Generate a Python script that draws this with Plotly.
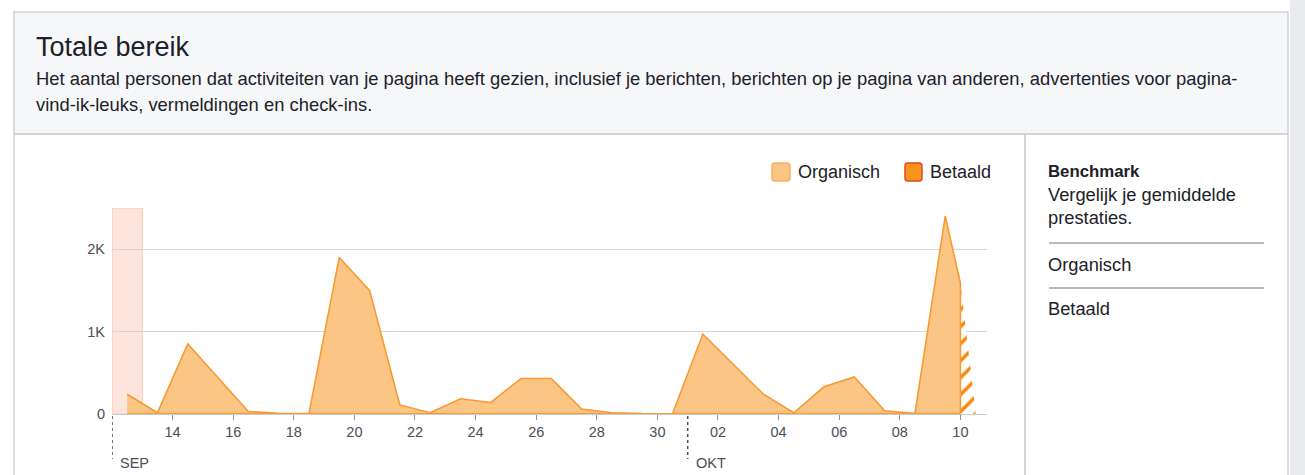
import plotly.graph_objects as go

# ---------------- data ----------------
org_dates = [
    "2015-09-12 12:00", "2015-09-13 12:00", "2015-09-14 12:00", "2015-09-15 12:00",
    "2015-09-16 12:00", "2015-09-17 12:00", "2015-09-18 12:00", "2015-09-19 12:00",
    "2015-09-20 12:00", "2015-09-21 12:00", "2015-09-22 12:00", "2015-09-23 12:00",
    "2015-09-24 12:00", "2015-09-25 12:00", "2015-09-26 12:00", "2015-09-27 12:00",
    "2015-09-28 12:00", "2015-09-29 12:00", "2015-09-30 12:00", "2015-10-01 12:00",
    "2015-10-02 12:00", "2015-10-03 12:00", "2015-10-04 12:00", "2015-10-05 12:00",
    "2015-10-06 12:00", "2015-10-07 12:00", "2015-10-08 12:00", "2015-10-09 12:00",
    "2015-10-10 00:00",
]
org_values = [
    240, 15, 850, 440,
    30, 10, 5, 1900,
    1500, 110, 15, 185,
    140, 430, 430, 60,
    15, 5, 3, 970,
    600, 240, 15, 330,
    450, 40, 5, 2400,
    1590,
]
paid_values = [0] * len(org_dates)

# incomplete (partial) last day, drawn hatched
partial_dates = ["2015-10-10 00:00", "2015-10-10 12:00"]
partial_values = [1590, 40]

highlight_day = ["2015-09-12 00:00", "2015-09-13 00:00"]
month_starts = ["2015-09-12 00:00", "2015-10-01 00:00"]
month_labels = ["SEP", "OKT"]
x_tickvals = [
    "2015-09-14", "2015-09-16", "2015-09-18", "2015-09-20", "2015-09-22",
    "2015-09-24", "2015-09-26", "2015-09-28", "2015-09-30", "2015-10-02",
    "2015-10-04", "2015-10-06", "2015-10-08", "2015-10-10",
]
x_ticktext = ["14", "16", "18", "20", "22", "24", "26", "28", "30",
              "02", "04", "06", "08", "10"]
y_tickvals = [0, 1000, 2000]
y_ticktext = ["0", "1K", "2K"]

title_text = "Totale bereik"
subtitle_lines = [
    "Het aantal personen dat activiteiten van je pagina heeft gezien, inclusief je berichten, berichten op je pagina van anderen, advertenties voor pagina-",
    "vind-ik-leuks, vermeldingen en check-ins.",
]
legend_names = ["Organisch", "Betaald"]
side_title = "Benchmark"
side_lines = ["Vergelijk je gemiddelde", "prestaties."]
side_items = ["Organisch", "Betaald"]

# ---------------- style ----------------
W, H = 1305, 475
FONT = "Liberation Sans, Arial, Helvetica, sans-serif"
TXT = "#1d2129"
GRAY_TXT = "#4b4f56"
ORG_FILL = "#fbc685"
ORG_LINE = "#f79a32"
PAID_FILL = "#f7941d"
PAID_LINE = "#e5461f"


def px(x):
    return x / W


def py(y):
    return 1 - y / H


def rounded_rect(x0, y0, x1, y1, r):
    # pixel coords -> paper path with rounded corners
    X = lambda v: f"{px(v):.5f}"
    Y = lambda v: f"{py(v):.5f}"
    return (f"M {X(x0 + r)},{Y(y0)} L {X(x1 - r)},{Y(y0)} Q {X(x1)},{Y(y0)} {X(x1)},{Y(y0 + r)} "
            f"L {X(x1)},{Y(y1 - r)} Q {X(x1)},{Y(y1)} {X(x1 - r)},{Y(y1)} "
            f"L {X(x0 + r)},{Y(y1)} Q {X(x0)},{Y(y1)} {X(x0)},{Y(y1 - r)} "
            f"L {X(x0)},{Y(y0 + r)} Q {X(x0)},{Y(y0)} {X(x0 + r)},{Y(y0)} Z")


fig = go.Figure()

fig.add_trace(go.Scatter(
    x=org_dates, y=org_values, mode="lines", name=legend_names[0],
    line=dict(color=ORG_LINE, width=1.6), fill="tozeroy", fillcolor=ORG_FILL,
    showlegend=False, hoverinfo="skip",
))
fig.add_trace(go.Scatter(
    x=partial_dates, y=partial_values, mode="lines", name="partial",
    line=dict(color=PAID_FILL, width=0), fill="tozeroy", fillcolor="white",
    fillpattern=dict(shape="/", fgcolor="#f7860c", fgopacity=1, bgcolor="white",
                     size=12, solidity=0.28),
    showlegend=False, hoverinfo="skip",
))
fig.add_trace(go.Scatter(
    x=org_dates, y=paid_values, mode="lines", name=legend_names[1],
    line=dict(color=ORG_LINE, width=1.8), showlegend=False, hoverinfo="skip",
))

shapes = []
# outer box and header
shapes.append(dict(type="rect", xref="paper", yref="paper", x0=px(1290), x1=1, y0=0, y1=1,
                   fillcolor="#e9ebee", line=dict(width=0), layer="below"))
shapes.append(dict(type="rect", xref="paper", yref="paper", x0=px(14), x1=px(1288), y0=py(134), y1=py(12),
                   fillcolor="#f6f7f9", line=dict(width=0), layer="below"))
shapes.append(dict(type="rect", xref="paper", yref="paper", x0=px(14), x1=px(1288), y0=py(478), y1=py(12),
                   fillcolor="rgba(0,0,0,0)", line=dict(color="#cfd2d6", width=1.5), layer="below"))
shapes.append(dict(type="line", xref="paper", yref="paper", x0=px(14), x1=px(1288), y0=py(134), y1=py(134),
                   line=dict(color="#c4c7cc", width=1.5)))
shapes.append(dict(type="line", xref="paper", yref="paper", x0=px(1025), x1=px(1025), y0=py(134), y1=0,
                   line=dict(color="#c4c7cc", width=1.5)))
# side panel separators
for yy in (243, 288):
    shapes.append(dict(type="line", xref="paper", yref="paper", x0=px(1049), x1=px(1264), y0=py(yy), y1=py(yy),
                       line=dict(color="#9ea2a8", width=1.5)))
# highlighted day
shapes.append(dict(type="rect", xref="x", yref="y", x0=highlight_day[0], x1=highlight_day[1], y0=0, y1=2500,
                   fillcolor="rgba(251,212,200,0.6)", line=dict(color="rgba(246,190,175,0.8)", width=1),
                   layer="below"))
# vertical edge of the partial day
shapes.append(dict(type="line", xref="x", yref="y", x0=partial_dates[0], x1=partial_dates[0],
                   y0=0, y1=partial_values[0], line=dict(color=ORG_LINE, width=1.6)))
# month separators
for m in month_starts:
    shapes.append(dict(type="line", xref="x", yref="paper", x0=m, x1=m, y0=py(416), y1=py(459),
                       line=dict(color="#4b4f56", width=1.5, dash="dot")))
# legend squares
shapes.append(dict(type="path", xref="paper", yref="paper", path=rounded_rect(772, 163, 790, 181, 3),
                   fillcolor=ORG_FILL, line=dict(color="#f8b060", width=1.5)))
shapes.append(dict(type="path", xref="paper", yref="paper", path=rounded_rect(905, 163, 922, 181, 3),
                   fillcolor=PAID_FILL, line=dict(color=PAID_LINE, width=1.5)))

annotations = []
annotations.append(dict(xref="paper", yref="paper", x=px(34), y=py(47), text=title_text, showarrow=False,
                        xanchor="left", yanchor="middle", font=dict(family=FONT, size=27, color=TXT)))
for i, line in enumerate(subtitle_lines):
    annotations.append(dict(xref="paper", yref="paper", x=px(34), y=py(78 + 26 * i), text=line, showarrow=False,
                            xanchor="left", yanchor="middle", font=dict(family=FONT, size=18.4, color=TXT)))
annotations.append(dict(xref="paper", yref="paper", x=px(796), y=py(172), text=legend_names[0], showarrow=False,
                        xanchor="left", yanchor="middle", font=dict(family=FONT, size=18, color=TXT)))
annotations.append(dict(xref="paper", yref="paper", x=px(928), y=py(172), text=legend_names[1], showarrow=False,
                        xanchor="left", yanchor="middle", font=dict(family=FONT, size=18, color=TXT)))
annotations.append(dict(xref="paper", yref="paper", x=px(1046), y=py(171), text="<b>" + side_title + "</b>",
                        showarrow=False, xanchor="left", yanchor="middle",
                        font=dict(family=FONT, size=16.8, color=TXT)))
for i, line in enumerate(side_lines):
    annotations.append(dict(xref="paper", yref="paper", x=px(1046), y=py(194 + 23 * i), text=line, showarrow=False,
                            xanchor="left", yanchor="middle", font=dict(family=FONT, size=18.3, color=TXT)))
for i, item in enumerate(side_items):
    annotations.append(dict(xref="paper", yref="paper", x=px(1046), y=py(264 + 44 * i), text=item, showarrow=False,
                            xanchor="left", yanchor="middle", font=dict(family=FONT, size=18.3, color=TXT)))
for m, lab in zip(month_starts, month_labels):
    annotations.append(dict(xref="x", yref="paper", x=m, y=py(463), text=lab, showarrow=False,
                            xanchor="left", yanchor="middle", xshift=6,
                            font=dict(family=FONT, size=14.5, color=GRAY_TXT)))

fig.update_layout(
    width=W, height=H,
    margin=dict(l=0, r=0, t=0, b=0),
    paper_bgcolor="white", plot_bgcolor="rgba(0,0,0,0)",
    shapes=shapes, annotations=annotations,
    showlegend=False,
    xaxis=dict(
        type="date", domain=[px(112), px(987)],
        range=["2015-09-12 00:00", "2015-10-10 21:05"],
        tickvals=x_tickvals, ticktext=x_ticktext,
        ticks="outside", ticklen=5, tickcolor="#8d949e", tickwidth=1,
        showline=True, linecolor="#c9ccd1", linewidth=1,
        showgrid=False, zeroline=False, automargin=False,
        tickfont=dict(family=FONT, size=14.5, color=GRAY_TXT),
        fixedrange=True,
    ),
    yaxis=dict(
        domain=[py(414), py(208)], range=[0, 2500],
        tickvals=y_tickvals, ticktext=y_ticktext,
        showgrid=True, gridcolor="#d3d5d9", gridwidth=1,
        zeroline=False, showline=False, ticks="", automargin=False,
        ticklabelstandoff=6,
        tickfont=dict(family=FONT, size=14.5, color=GRAY_TXT),
        fixedrange=True,
    ),
)

fig.write_html(
    "out.html",
    config={"displayModeBar": False, "staticPlot": True},
    post_script="document.body.style.margin='0';document.body.style.overflow='hidden';"
                "document.documentElement.style.overflow='hidden';",
)
